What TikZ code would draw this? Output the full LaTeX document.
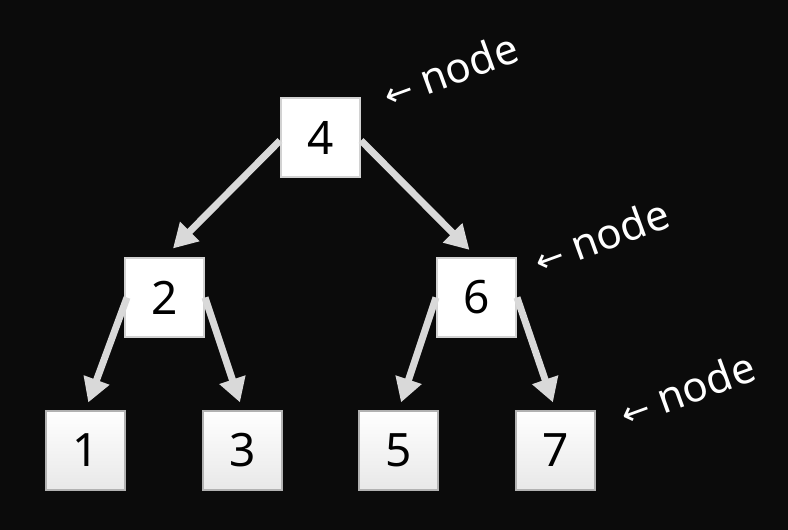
\documentclass[tikz,border=0pt]{standalone}
\usepackage{fontspec}
\setmainfont{Noto Sans}
\newfontfamily\arrowfont{DejaVu Sans}
\usetikzlibrary{arrows.meta}
\definecolor{bg}{HTML}{0B0B0B}
\definecolor{arr}{HTML}{D9D9D9}
\definecolor{edge}{HTML}{D2D2D2}
\definecolor{leafbot}{HTML}{E8E8E8}
\begin{document}
\begin{tikzpicture}[x=1pt,y=-1pt,
  inner/.style={draw=edge,line width=2pt,fill=white,minimum size=79pt,inner sep=0pt,font=\fontsize{46}{50}\selectfont},
  leaf/.style={draw=edge!85!black,line width=2pt,top color=white,bottom color=leafbot,minimum size=79pt,inner sep=0pt,font=\fontsize{46}{50}\selectfont},
  link/.style={draw=arr,line width=7pt,-{Triangle[width=26pt,length=24pt]}},
  lbl/.style={text=white,rotate=20,font=\fontsize{42}{46}\selectfont}]
\fill[bg] (0,0) rectangle (788,530);
\useasboundingbox (0,0) rectangle (788,530);
\node[inner] (n4) at (320.5,137.5) {4};
\node[inner] (n2) at (164.5,297.5) {2};
\node[inner] (n6) at (476.5,297.5) {6};
\node[leaf] (n1) at (85.5,450.5) {1};
\node[leaf] (n3) at (242.5,450.5) {3};
\node[leaf] (n5) at (398.5,450.5) {5};
\node[leaf] (n7) at (555.5,450.5) {7};
\draw[link,shorten >=12pt] ([yshift=-3pt]n4.west) -- (n2.north);
\draw[link,shorten >=10pt] ([yshift=-3pt]n4.east) -- (n6.north);
\draw[link,shorten >=8pt] ([xshift=3pt]n2.west) -- (n1.north);
\draw[link,shorten >=8pt] (n2.east) -- (n3.north);
\draw[link,shorten >=8pt] (n6.west) -- (n5.north);
\draw[link,shorten >=8pt] (n6.east) -- (n7.north);
\node[lbl] (l1) at (450,70) {{\arrowfont\fontsize{34}{38}\selectfont ←} node};
\node[lbl] (l2) at (601,236) {{\arrowfont\fontsize{34}{38}\selectfont ←} node};
\node[lbl] (l3) at (687,389) {{\arrowfont\fontsize{34}{38}\selectfont ←} node};
\end{tikzpicture}
\end{document}
